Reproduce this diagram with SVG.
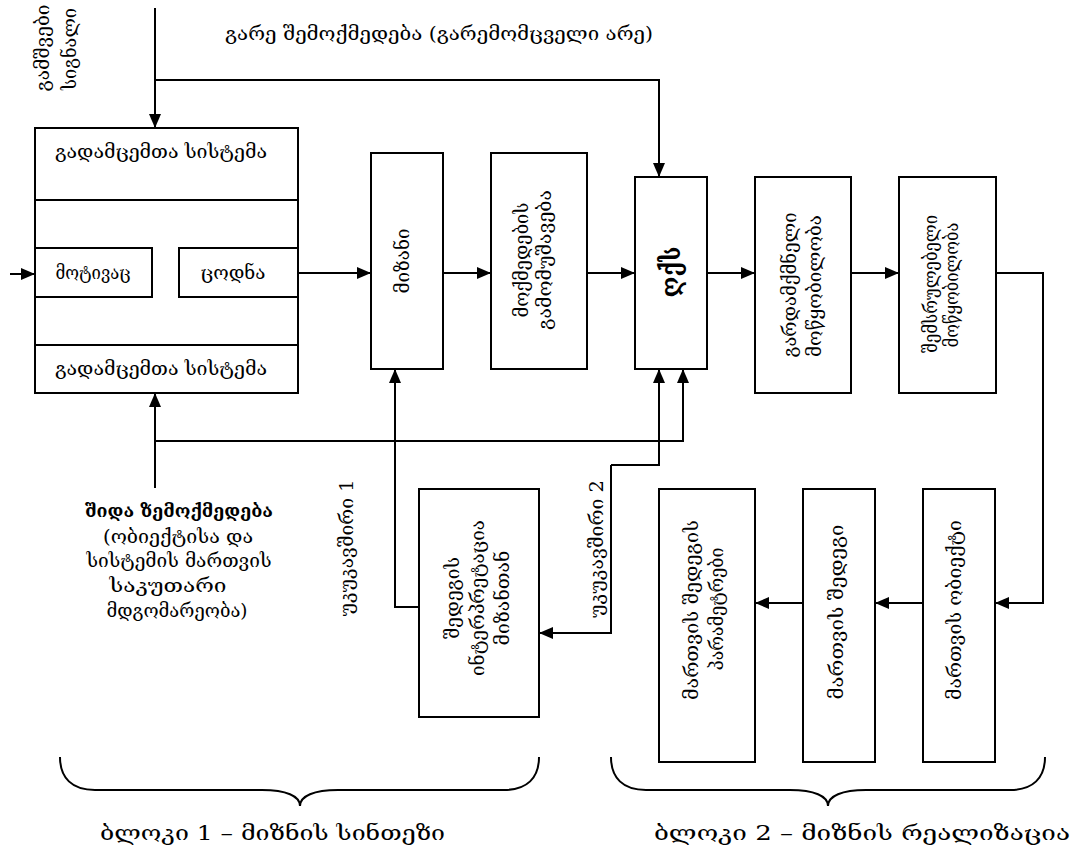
<svg xmlns="http://www.w3.org/2000/svg" width="1081" height="854" viewBox="0 0 1081 854">
<style>
.bx{fill:#fff;stroke:#000;stroke-width:2}
.ln{fill:none;stroke:#000;stroke-width:2}
.ar{fill:none;stroke:#000;stroke-width:2;marker-end:url(#ah)}
.br{fill:none;stroke:#000;stroke-width:2}
text{font-family:"DejaVu Serif","DejaVu Sans",serif;font-size:18px;fill:#000}
.c{text-anchor:middle}
.b{font-weight:bold}
</style>
<defs>
<marker id="ah" markerUnits="userSpaceOnUse" markerWidth="14" markerHeight="12" refX="14" refY="6" orient="auto-start-reverse">
<path d="M0,0 L14,6 L0,12 z" fill="#000"/>
</marker>
</defs>
<rect width="1081" height="854" fill="#fff"/>

<g id="connectors">
<path class="ar" d="M155,8 V128"/>
<path class="ar" d="M155,80 H659 V177"/>
<path class="ar" d="M10,274 H35"/>
<path class="ar" d="M152,274 H179"/>
<path class="ar" d="M179,293 H153"/>
<path class="ar" d="M83,200 V248"/>
<path class="ar" d="M107,248 V200"/>
<path class="ar" d="M202,200 V248"/>
<path class="ar" d="M251,248 V200"/>
<path class="ar" d="M83,297 V345"/>
<path class="ar" d="M107,345 V297"/>
<path class="ar" d="M227,297 V345"/>
<path class="ar" d="M251,345 V297"/>
<path class="ar" d="M298,273 H371"/>
<path class="ar" d="M443,273 H491"/>
<path class="ar" d="M587,273 H635"/>
<path class="ar" d="M707,273 H755"/>
<path class="ar" d="M851,273 H899"/>
<path class="ar" d="M996,273 H1043 V603 H995"/>
<path class="ar" d="M923,603 H875"/>
<path class="ar" d="M803,603 H755"/>
<path class="ar" d="M155,488 V393"/>
<path class="ar" d="M155,441 H683 V369"/>
<path class="ar" d="M419,607 H395 V369"/>
<path class="ar" d="M611,465 H659 V369"/>
<path class="ar" d="M611,465 V633 H539"/>
</g>

<g id="block1-box">
<rect class="bx" x="35" y="128" width="263" height="265"/>
<path class="ln" d="M35,200 H298 M35,345 H298"/>
<text class="c" x="161" y="158" textLength="212" lengthAdjust="spacingAndGlyphs">გადამცემთა  სისტემა</text>
<text class="c" x="161" y="375" textLength="212" lengthAdjust="spacingAndGlyphs">გადამცემთა  სისტემა</text>
</g>
<g id="motivation">
<rect class="bx" x="35" y="248" width="117" height="49"/>
<text class="c" x="93" y="279" textLength="75" lengthAdjust="spacingAndGlyphs">მოტივაც</text>
</g>
<g id="knowledge">
<rect class="bx" x="179" y="248" width="119" height="49"/>
<text class="c" x="233" y="279" textLength="65" lengthAdjust="spacingAndGlyphs">ცოდნა</text>
</g>

<g id="goal">
<rect class="bx" x="371" y="153" width="72" height="216"/>
<text class="c" transform="translate(403,261) rotate(-90)" y="6" textLength="65" lengthAdjust="spacingAndGlyphs">მიზანი</text>
</g>
<g id="action">
<rect class="bx" x="491" y="153" width="96" height="216"/>
<text class="c" transform="translate(522,260) rotate(-90)" y="6" textLength="115" lengthAdjust="spacingAndGlyphs">მოქმედების</text>
<text class="c" transform="translate(545,260) rotate(-90)" y="6" textLength="140" lengthAdjust="spacingAndGlyphs">გამომუშავება</text>
</g>
<g id="dqs">
<rect class="bx" x="635" y="177" width="72" height="192"/>
<text class="c b" style="font-size:26px" transform="translate(671,272) rotate(-90)" y="9" textLength="51" lengthAdjust="spacingAndGlyphs">ღქს</text>
</g>
<g id="converter">
<rect class="bx" x="755" y="177" width="96" height="216"/>
<text class="c" transform="translate(790,285) rotate(-90)" y="6" textLength="145" lengthAdjust="spacingAndGlyphs">გარდამქმნელი</text>
<text class="c" transform="translate(815,286) rotate(-90)" y="6" textLength="142" lengthAdjust="spacingAndGlyphs">მოწყობილობა</text>
</g>
<g id="executor">
<rect class="bx" x="899" y="177" width="97" height="216"/>
<text class="c" transform="translate(931,284) rotate(-90)" y="6" textLength="138" lengthAdjust="spacingAndGlyphs">შემსრულებელი</text>
<text class="c" transform="translate(952,285) rotate(-90)" y="6" textLength="125" lengthAdjust="spacingAndGlyphs">მოწყობილობა</text>
</g>

<g id="interpretation">
<rect class="bx" x="419" y="489" width="120" height="228"/>
<text class="c" transform="translate(453,598) rotate(-90)" y="6" textLength="82" lengthAdjust="spacingAndGlyphs">შედეგის</text>
<text class="c" transform="translate(478,598) rotate(-90)" y="6" textLength="156" lengthAdjust="spacingAndGlyphs">ინტერპრეტაცია</text>
<text class="c" transform="translate(503,598) rotate(-90)" y="6" textLength="95" lengthAdjust="spacingAndGlyphs">მიზანთან</text>
</g>
<g id="params">
<rect class="bx" x="659" y="489" width="96" height="273"/>
<text class="c" transform="translate(692,610) rotate(-90)" y="6" textLength="180" lengthAdjust="spacingAndGlyphs">მართვის  შედეგის</text>
<text class="c" transform="translate(717,609) rotate(-90)" y="6" textLength="123" lengthAdjust="spacingAndGlyphs">პარამეტრები</text>
</g>
<g id="result">
<rect class="bx" x="803" y="489" width="72" height="273"/>
<text class="c" transform="translate(837,612) rotate(-90)" y="6" textLength="175" lengthAdjust="spacingAndGlyphs">მართვის  შედეგი</text>
</g>
<g id="object">
<rect class="bx" x="923" y="489" width="72" height="273"/>
<text class="c" transform="translate(955,610) rotate(-90)" y="6" textLength="180" lengthAdjust="spacingAndGlyphs">მართვის  ობიექტი</text>
</g>

<g id="labels">
<text class="c" transform="translate(43,48) rotate(-90)" y="6" textLength="87" lengthAdjust="spacingAndGlyphs">გამშვები</text>
<text class="c" transform="translate(70,49) rotate(-90)" y="6" textLength="82" lengthAdjust="spacingAndGlyphs">სიგნალი</text>
<text x="225" y="40" textLength="428" lengthAdjust="spacingAndGlyphs">გარე  შემოქმედება  (გარემომცველი  არე)</text>
<text class="c b" x="179" y="517" textLength="188" lengthAdjust="spacingAndGlyphs">შიდა  ზემოქმედება</text>
<text class="c" x="178" y="543" textLength="150" lengthAdjust="spacingAndGlyphs">(ობიექტისა  და</text>
<text class="c" x="179" y="567" textLength="185" lengthAdjust="spacingAndGlyphs">სისტემის  მართვის</text>
<text class="c" x="168" y="592" textLength="117" lengthAdjust="spacingAndGlyphs">საკუთარი</text>
<text class="c" x="177" y="617" textLength="141" lengthAdjust="spacingAndGlyphs">მდგომარეობა)</text>
<text class="c" transform="translate(347,548) rotate(-90)" y="6" textLength="137" lengthAdjust="spacingAndGlyphs">უკუკავშირი  1</text>
<text class="c" transform="translate(597,549) rotate(-90)" y="6" textLength="138" lengthAdjust="spacingAndGlyphs">უკუკავშირი  2</text>
</g>

<g id="braces">
<path class="br" d="M60,757 C60,778 72,790 95,790 L262,790 C286,790 300,796 300,806 C300,796 314,790 338,790 L504,790 C527,790 539,778 539,757"/>
<path class="br" d="M611,757 C611,778 623,790 646,790 L790,790 C814,790 828,796 828,806 C828,796 842,790 866,790 L1010,790 C1033,790 1045,778 1045,757"/>
<text x="100" y="840" style="font-size:20px" textLength="345" lengthAdjust="spacingAndGlyphs">ბლოკი 1 – მიზნის სინთეზი</text>
<text x="654" y="840" style="font-size:20px" textLength="416" lengthAdjust="spacingAndGlyphs">ბლოკი 2 – მიზნის რეალიზაცია</text>
</g>
</svg>
